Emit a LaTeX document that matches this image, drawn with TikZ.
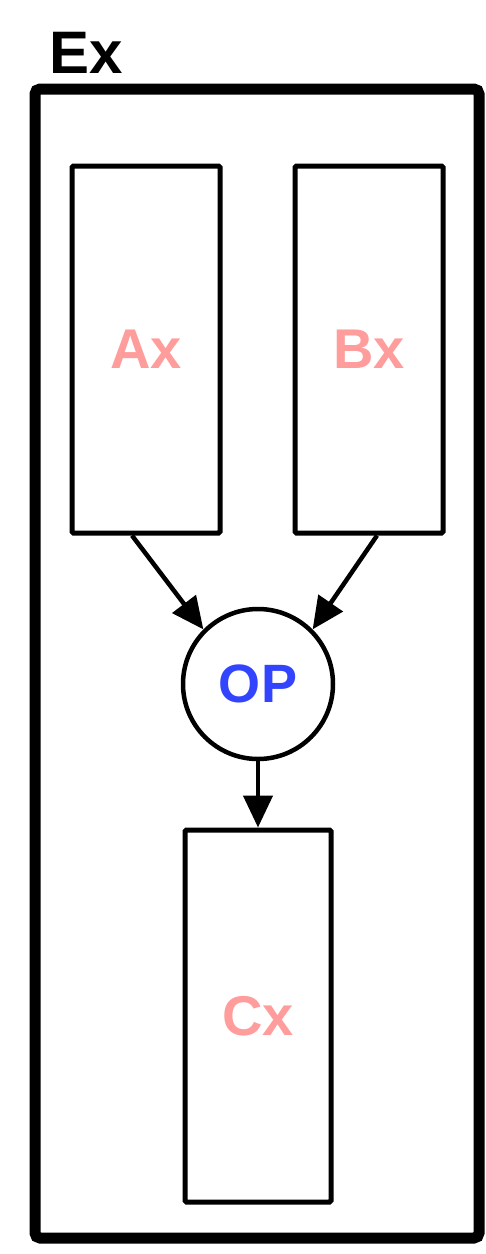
\documentclass[tikz,border=0pt]{standalone}
\usepackage{fontspec}
\setmainfont{Liberation Sans}
\usetikzlibrary{arrows.meta,calc}
\definecolor{boxtext}{HTML}{FF9C9C}
\definecolor{optext}{HTML}{3344FF}
\tikzset{
  blockbox/.style={draw=black, line width=5pt, rounded corners=1.5pt, minimum width=148pt, inner sep=0pt,
    text=boxtext, font=\fontsize{56}{60}\selectfont\bfseries},
  opcircle/.style={draw=black, circle, line width=4.5pt, minimum size=150pt, inner sep=0pt,
    text=optext, font=\fontsize{54}{60}\selectfont\bfseries},
  flow/.style={line width=4.5pt, -{Triangle[length=32pt,width=29pt]}},
  outerbox/.style={draw=black, line width=11pt, rounded corners=5pt}
}
\begin{document}
\begin{tikzpicture}[x=1pt,y=-1pt]
\useasboundingbox (0,0) rectangle (486,1254);
\draw[outerbox] (35,89) rectangle (479,1238);
\node[anchor=base west, font=\fontsize{60}{64}\selectfont\bfseries, inner sep=0pt] (ex) at (49,73) {Ex};
\node[blockbox, minimum height=367pt] (ax) at (146,349.5) {Ax};
\node[blockbox, minimum height=367pt] (bx) at (369,349.5) {Bx};
\node[opcircle] (op) at (258,684) {OP};
\node[blockbox, minimum width=146pt, minimum height=372pt] (cx) at (258,1016) {Cx};
\coordinate (axout) at ($(ax.south)+(-14,0)$);
\coordinate (bxout) at ($(bx.south)+(8,0)$);
\draw[flow] (axout) -- (op.135);
\draw[flow] (bxout) -- (op.45);
\draw[flow] (op.south) -- (cx.north);
\end{tikzpicture}
\end{document}
